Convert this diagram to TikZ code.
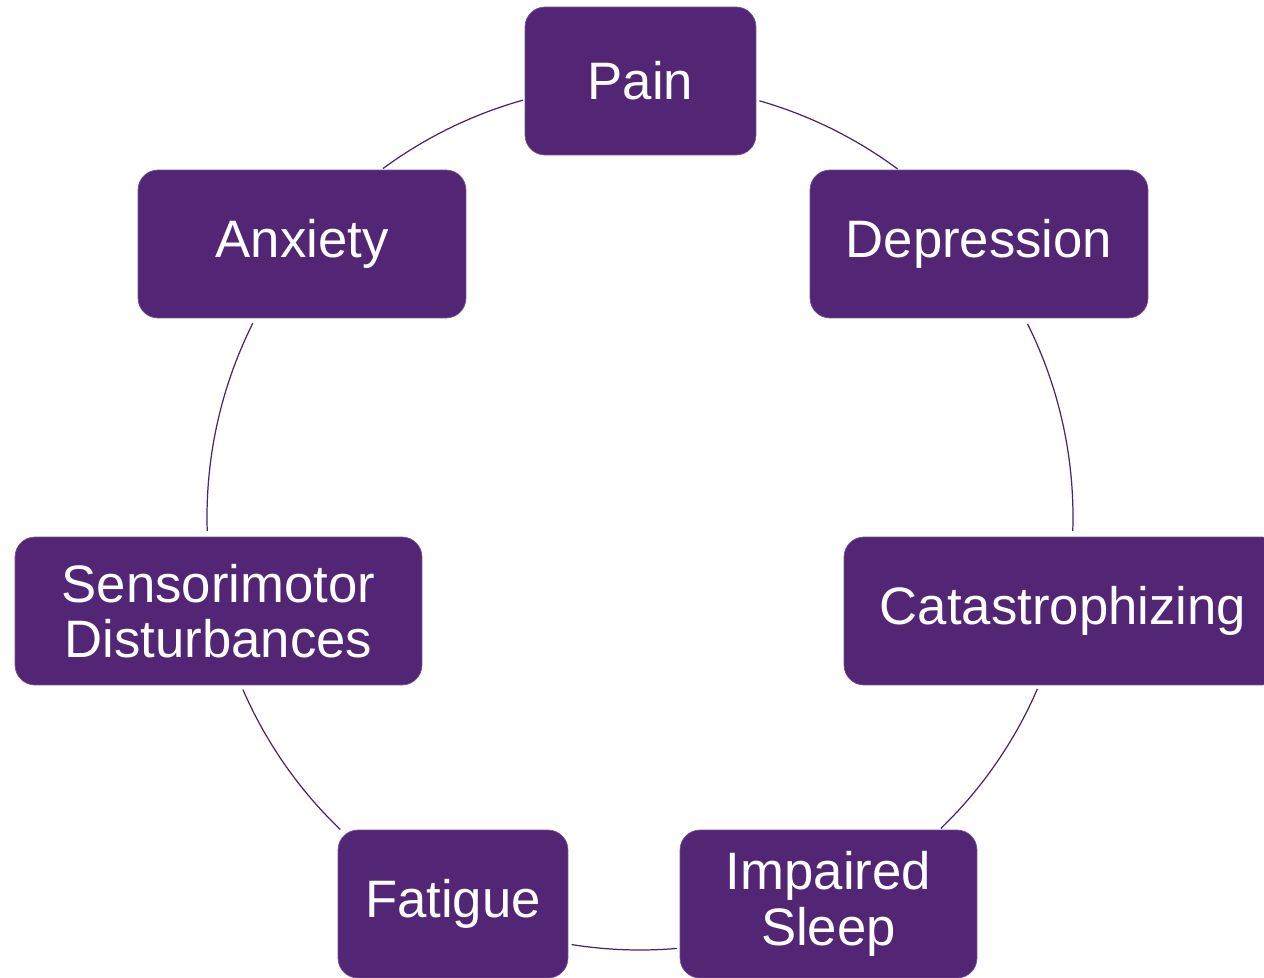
\documentclass[tikz,border=0pt]{standalone}
\usepackage{fontspec}
\setmainfont{Liberation Sans}
\definecolor{boxpurple}{HTML}{522575}
\definecolor{linepurple}{HTML}{4A2470}
\begin{document}
\begin{tikzpicture}[x=0.02cm,y=0.02cm,
  box/.style={draw=boxpurple!80!white, line width=0.4pt, fill=boxpurple, rounded corners=0.4cm,
    minimum height=2.96cm, text=white, align=center, inner sep=0pt,
    font=\fontsize{30}{31.5}\selectfont},
  conn/.style={draw=linepurple, line width=0.7pt}]
\useasboundingbox (0,0) rectangle (1264,-977);
\coordinate (O) at (640,-517);
\node[box, minimum width=4.62cm] (pain) at (640.5,-81) {Pain};
\node[box, minimum width=6.76cm] (dep) at (979,-244) {Depression};
\node[box, minimum width=8.76cm] (cat) at (1063,-611) {Catastrophizing};
\node[box, minimum width=5.94cm] (sleep) at (828.5,-904) {Impaired\\Sleep};
\node[box, minimum width=4.60cm] (fat) at (453,-904) {Fatigue};
\node[box, minimum width=8.14cm] (sens) at (218.5,-611) {Sensorimotor\\Disturbances};
\node[box, minimum width=6.56cm] (anx) at (302,-244) {Anxiety};
% connectors: arcs of the circle between boxes
\coordinate (pd) at ([shift={(74:433)}]O);
\coordinate (dc) at ([shift={(26.5:433)}]O);
\coordinate (cs) at ([shift={(-23.4:433)}]O);
\coordinate (sf) at ([shift={(-85.1:433)}]O);
\coordinate (fs) at ([shift={(-133.8:433)}]O);
\coordinate (sa) at ([shift={(181.85:433)}]O);
\coordinate (ap) at ([shift={(126.4:433)}]O);
\draw[conn] (pd) arc[start angle=74, end angle=53.5, radius=433];
\draw[conn] (dc) arc[start angle=26.5, end angle=-1.85, radius=433];
\draw[conn] (cs) arc[start angle=-23.4, end angle=-46, radius=433];
\draw[conn] (sf) arc[start angle=-85.1, end angle=-99.1, radius=433];
\draw[conn] (fs) arc[start angle=-133.8, end angle=-156.5, radius=433];
\draw[conn] (sa) arc[start angle=181.85, end angle=153.4, radius=433];
\draw[conn] (ap) arc[start angle=126.4, end angle=105.7, radius=433];
\end{tikzpicture}
\end{document}
